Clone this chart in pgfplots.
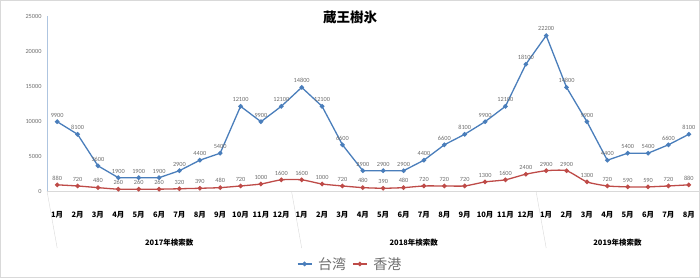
\documentclass[border=0pt]{standalone}
\usepackage{pgfplots}
\pgfplotsset{compat=1.18}
\usepackage{fontspec}
\setmainfont{Carlito}
\newfontfamily\cjk{Noto Sans CJK JP}
\definecolor{tw}{RGB}{74,126,187}
\definecolor{hk}{RGB}{190,75,72}
\definecolor{lbl}{RGB}{110,110,110}
\definecolor{sep}{RGB}{217,217,217}
\begin{document}
\begin{tikzpicture}
\path[use as bounding box] (-47pt,-87pt) rectangle (653pt,191pt);
\draw[sep] (-46.5pt,-86.5pt) rectangle (652.5pt,190.5pt);
\begin{axis}[
  scale only axis, width=652pt, height=175pt,
  xmin=-0.5, xmax=31.5, ymin=0, ymax=25000,
  axis x line*=bottom, axis y line*=left,
  x axis line style={draw=sep, -},
  y axis line style={draw=tw!45, -},
  major tick length=0pt,
  ytick={0,5000,10000,15000,20000,25000},
  scaled y ticks=false,
  /pgf/number format/.cd, fixed, precision=0, 1000 sep={}, assume math mode=true, /pgfplots/.cd,
  yticklabel style={font=\fontsize{6.3}{7}\selectfont, text=lbl, xshift=-2pt},
  xtick={0,...,31},
  xticklabels={1月,2月,3月,4月,5月,6月,7月,8月,9月,10月,11月,12月,1月,2月,3月,4月,5月,6月,7月,8月,9月,10月,11月,12月,1月,2月,3月,4月,5月,6月,7月,8月},
  xticklabel style={font=\cjk\bfseries\fontsize{7.5}{8}\selectfont, anchor=center, yshift=-24pt},
  clip=false,
  nodes near coords,
  every node near coord/.style={font=\fontsize{6.3}{7}\selectfont, text=lbl, inner sep=0.5pt, anchor=south, yshift=3.5pt},
  legend columns=2,
  legend style={draw=none, fill=none, at={(0.465,-0.417)}, anchor=center, font=\cjk\fontsize{14}{15}\selectfont, text=lbl, column sep=4pt},
  legend image code/.code={\draw[mark repeat=2,mark phase=2] plot coordinates {(0pt,0pt) (7pt,0pt) (14pt,0pt)};},
]
\addplot[tw, line width=1.3pt, mark=*, mark size=1.6pt] coordinates {
(0,9900) (1,8100) (2,3600) (3,1900) (4,1900) (5,1900) (6,2900) (7,4400) (8,5400) (9,12100) (10,9900) (11,12100)
(12,14800) (13,12100) (14,6600) (15,2900) (16,2900) (17,2900) (18,4400) (19,6600) (20,8100) (21,9900) (22,12100) (23,18100)
(24,22200) (25,14800) (26,9900) (27,4400) (28,5400) (29,5400) (30,6600) (31,8100)};
\addlegendentry{台湾}
\addplot[hk, line width=1.3pt, mark=*, mark size=1.6pt, smooth, tension=0.35] coordinates {
(0,880) (1,720) (2,480) (3,260) (4,260) (5,260) (6,320) (7,390) (8,480) (9,720) (10,1000) (11,1600)
(12,1600) (13,1000) (14,720) (15,480) (16,390) (17,480) (18,720) (19,720) (20,720) (21,1300) (22,1600) (23,2400)
(24,2900) (25,2900) (26,1300) (27,720) (28,590) (29,590) (30,720) (31,880)};
\addlegendentry{香港}
\draw[sep] (axis cs:-0.5,0) -- ++(0,-57pt);
\draw[sep] (axis cs:11.5,0) -- ++(0,-57pt);
\draw[sep] (axis cs:23.5,0) -- ++(0,-57pt);
\node[font=\cjk\bfseries\fontsize{7.5}{8}\selectfont] at ([yshift=-52pt]axis cs:5.5,0) {2017年検索数};
\node[font=\cjk\bfseries\fontsize{7.5}{8}\selectfont] at ([yshift=-52pt]axis cs:17.5,0) {2018年検索数};
\node[font=\cjk\bfseries\fontsize{7.5}{8}\selectfont] at ([yshift=-52pt]axis cs:27.5,0) {2019年検索数};
\end{axis}
\node[font=\cjk\bfseries\fontsize{13.5}{14}\selectfont] at (303pt,174pt) {蔵王樹氷};
\end{tikzpicture}
\end{document}
